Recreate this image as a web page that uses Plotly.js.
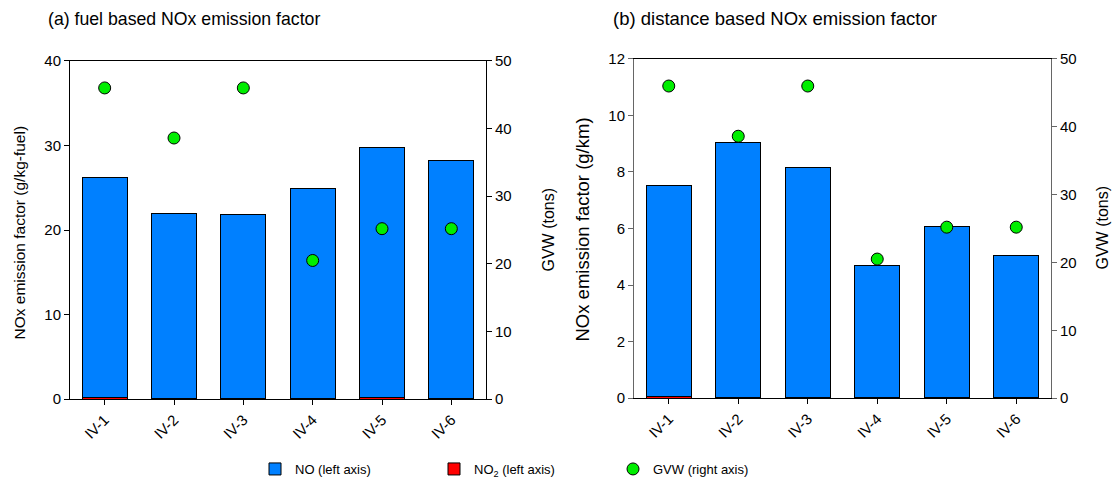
<!DOCTYPE html>
<html>
<head>
<meta charset="utf-8">
<script src="https://cdn.plot.ly/plotly-3.0.1.min.js"></script>
<style>html,body{margin:0;padding:0;background:#fff;}#chart{width:1117px;height:484px;}</style>
</head>
<body>
<div id="chart"></div>
<script>
const categories = ['IV-1', 'IV-2', 'IV-3', 'IV-4', 'IV-5', 'IV-6'];
const fuelNO  = [26.05, 21.85, 21.75, 24.85, 29.6, 28.15];
const fuelNO2 = [0.2, 0.05, 0.05, 0.05, 0.2, 0.05];
const distNO  = [7.48, 9.03, 8.14, 4.69, 6.03, 5.05];
const distNO2 = [0.05, 0.02, 0.01, 0.01, 0.04, 0.01];
const gvw     = [46, 38.6, 46, 20.5, 25.2, 25.2];

const FONT = 'Liberation Sans, Arial, sans-serif';
const blue = '#0080ff', red = '#ff0000', green = '#00ee00';

const traces = [
  {type:'bar', x:categories, y:fuelNO2, xaxis:'x', yaxis:'y', name:'NO<sub>2</sub> (left axis)',
   marker:{color:red, line:{color:'#000', width:1}}, legendrank:2},
  {type:'bar', x:categories, y:fuelNO, xaxis:'x', yaxis:'y', name:'NO (left axis)',
   marker:{color:blue, line:{color:'#000', width:1}}, legendrank:1},
  {type:'scatter', mode:'markers', x:categories, y:gvw, xaxis:'x', yaxis:'y2', name:'GVW (right axis)',
   marker:{color:green, size:12, line:{color:'#000', width:1}}, legendrank:3},
  {type:'bar', x:categories, y:distNO2, xaxis:'x2', yaxis:'y3', showlegend:false,
   marker:{color:red, line:{color:'#000', width:1}}},
  {type:'bar', x:categories, y:distNO, xaxis:'x2', yaxis:'y3', showlegend:false,
   marker:{color:blue, line:{color:'#000', width:1}}},
  {type:'scatter', mode:'markers', x:categories, y:gvw, xaxis:'x2', yaxis:'y4', showlegend:false,
   marker:{color:green, size:12, line:{color:'#000', width:1}}}
];

const tickf = {family:FONT, size:15, color:'#000'};
function xax(dom, anchor){
  return {domain:dom, anchor:anchor, type:'category', range:[-0.5,5.5], tickangle:-45,
    ticks:'outside', ticklen:5, tickcolor:'#000', showline:true, linecolor:'#000', linewidth:1,
    mirror:true, showgrid:false, zeroline:false, tickfont:{family:FONT, size:15, color:'#000'}, automargin:false};
}
function yax(dom, anchor, range, dtick, lc){
  return {domain:dom, anchor:anchor, range:range, dtick:dtick, ticks:'outside', ticklen:5,
    tickcolor:lc, showline:true, linecolor:lc, linewidth:1, showgrid:false, zeroline:false,
    tickfont:tickf, automargin:false};
}
function yaxR(over, anchor, range, dtick, lc){
  return {overlaying:over, side:'right', anchor:anchor, range:range, dtick:dtick, ticks:'outside', ticklen:5,
    tickcolor:lc, showline:true, linecolor:lc, linewidth:1, showgrid:false, zeroline:false,
    tickfont:tickf, automargin:false};
}

const H = 484, W = 1117;
const layout = {
  width:W, height:H, margin:{l:0, r:0, t:0, b:0},
  paper_bgcolor:'#fff', plot_bgcolor:'rgba(0,0,0,0)',
  barmode:'stack', bargap:0.35,
  font:{family:FONT, color:'#000'},
  xaxis: xax([70/W, 486/W], 'y'),
  yaxis: yax([1-400/H, 1-61/H], 'x', [0,40], 10, '#000'),
  yaxis2: yaxR('y', 'x', [0,50], 10, '#000'),
  xaxis2: xax([634/W, 1051/W], 'y3'),
  yaxis3: yax([1-399/H, 1-59/H], 'x2', [0,12], 2, '#666'),
  yaxis4: yaxR('y3', 'x2', [0,50], 10, '#666'),
  showlegend:true,
  legend:{orientation:'h', x:255/W, y:(H-470)/H, xanchor:'left', yanchor:'middle',
    entrywidth:134, entrywidthmode:'pixels', traceorder:'normal',
    font:{family:FONT, size:13, color:'#000'}, bgcolor:'rgba(0,0,0,0)'},
  annotations:[
    {text:'(a) fuel based NOx emission factor', xref:'paper', yref:'paper', x:46/W, y:1-19/H,
     xanchor:'left', yanchor:'middle', showarrow:false, font:{family:FONT, size:17.7}},
    {text:'(b) distance based NOx emission factor', xref:'paper', yref:'paper', x:611/W, y:1-19/H,
     xanchor:'left', yanchor:'middle', showarrow:false, font:{family:FONT, size:18.5}},
    {text:'NOx emission factor (g/kg-fuel)', xref:'paper', yref:'paper', x:20/W, y:1-233/H,
     xanchor:'center', yanchor:'middle', textangle:-90, showarrow:false, font:{family:FONT, size:15.5}},
    {text:'GVW (tons)', xref:'paper', yref:'paper', x:549/W, y:1-230/H,
     xanchor:'center', yanchor:'middle', textangle:-90, showarrow:false, font:{family:FONT, size:16}},
    {text:'NOx emission factor (g/km)', xref:'paper', yref:'paper', x:583/W, y:1-230/H,
     xanchor:'center', yanchor:'middle', textangle:-90, showarrow:false, font:{family:FONT, size:18.5}},
    {text:'GVW (tons)', xref:'paper', yref:'paper', x:1103/W, y:1-228/H,
     xanchor:'center', yanchor:'middle', textangle:-90, showarrow:false, font:{family:FONT, size:16}}
  ]
};

Plotly.newPlot('chart', traces, layout, {staticPlot:true, displayModeBar:false});
</script>
</body>
</html>
